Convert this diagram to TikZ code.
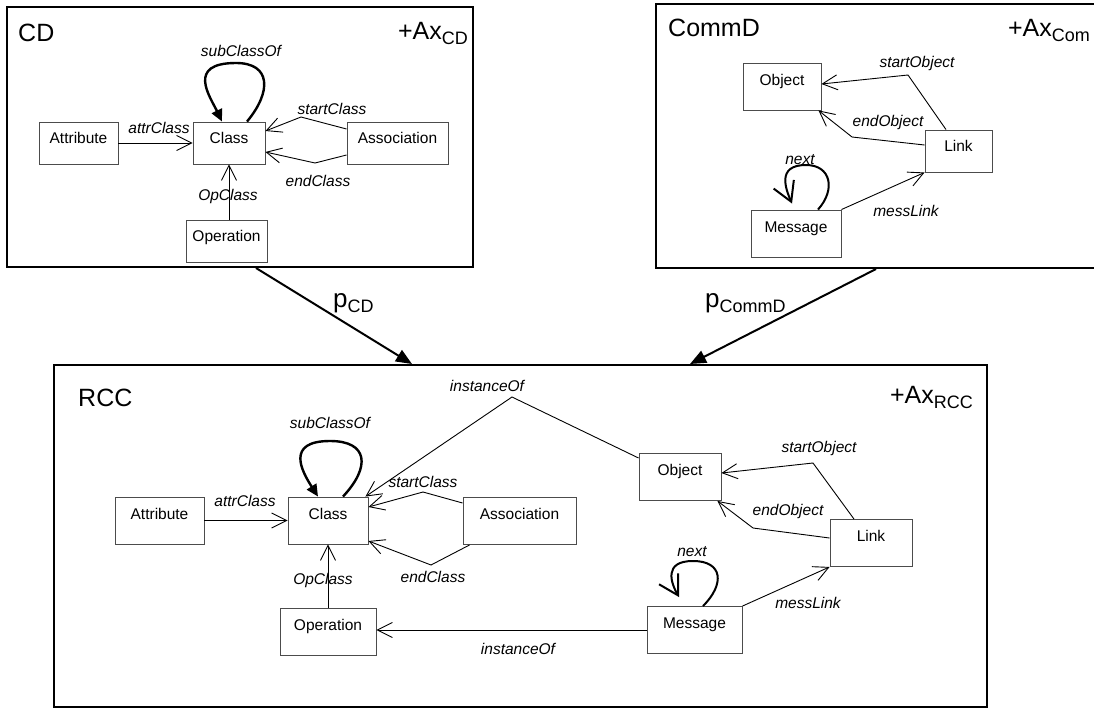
\documentclass[tikz,border=0pt]{standalone}
\usepackage{fontspec}
\setmainfont{Liberation Sans}
\usetikzlibrary{arrows.meta,calc}

\tikzset{
  cls/.style={draw=black!70, line width=0.9pt, inner sep=0pt,
    font=\fontsize{15.5}{18}\selectfont, text height=22pt, text depth=25pt},
  clsS/.style={cls, text height=21pt, text depth=21pt},
  rel/.style={font=\fontsize{15.5}{18}\selectfont\itshape, inner sep=0pt},
  conn/.style={line width=0.9pt, -{Straight Barb[length=15pt,width=15pt]}},
  loopline/.style={line width=2.4pt, -{Triangle[length=12pt,width=11pt]}},
  nextline/.style={line width=2pt, -{Straight Barb[length=19pt,width=22pt]}},
  frame/.style={draw, line width=2pt, inner sep=0pt},
  titletext/.style={font=\fontsize{25}{30}\selectfont, inner sep=0pt, anchor=base west},
  axtext/.style={font=\fontsize{25}{30}\selectfont, inner sep=0pt, anchor=base east},
  parrow/.style={line width=2pt, -{Triangle[length=16pt,width=13pt]}},
  plabel/.style={font=\fontsize{26}{30}\selectfont, inner sep=0pt, anchor=base west},
}
\newcommand{\subtxt}[1]{\raisebox{-5pt}{\fontsize{18}{20}\selectfont #1}}

\begin{document}
\begin{tikzpicture}[x=1pt,y=-1pt]
\useasboundingbox (0,0) rectangle (1094,707);
\fill[white] (0,0) rectangle (1094,707);
\clip (0,0) rectangle (1094,707);

% ---------- frames ----------
\node[frame, minimum width=466pt, minimum height=260pt] (cdf) at (240,137) {};
\node[frame, minimum width=444pt, minimum height=264pt] (cmf) at (878,136) {};
\node[frame, minimum width=933pt, minimum height=342pt] (rcf) at (520.5,536) {};

\node[titletext] (cdt) at (18,41) {CD};
\node[axtext] (cdax) at (468,39) {+Ax\subtxt{CD}};
\node[titletext] (cmt) at (668,36) {CommD};
\node[axtext] (cmax) at (1090,36) {+Ax\subtxt{Com}};
\node[titletext] (rct) at (78,406) {RCC};
\node[axtext] (rcax) at (973,403) {+Ax\subtxt{RCC}};

% ---------- class diagram ----------
\node[clsS, minimum width=79pt] (cattr) at (78.5,143) {Attribute};
\node[clsS, minimum width=72pt] (ccls) at (229,143) {Class};
\node[clsS, minimum width=101pt] (casc) at (397.5,143) {Association};
\node[clsS, minimum width=81pt] (cop) at (226.5,241) {Operation};

\draw[conn] (cattr.east) -- (ccls.west);
\node[rel] (cattrl) at (159,128) {attrClass};
\coordinate (csc) at (301,117);
\draw[conn] (casc.west |- 0,129) -- (csc) -- (ccls.east |- 0,131);
\node[rel] (cscl) at (332,109) {startClass};
\coordinate (cec) at (315,163);
\draw[conn] (casc.west |- 0,155) -- (cec) -- (ccls.east |- 0,152);
\node[rel] (cecl) at (318,181) {endClass};
\draw[conn] (ccls.south |- cop.north) -- (ccls.south);
\node[rel] (copl) at (228,196) {OpClass};
\draw[loopline] ([xshift=18pt]ccls.north) .. controls +(25,-30) and +(35,0) .. (236,63)
  .. controls +(-50,0) and +(-12,-25) .. ([xshift=-7pt]ccls.north);
\node[rel] (csubl) at (241,51) {subClassOf};

% ---------- communication diagram ----------
\node[cls, minimum width=78pt] (mobj) at (782,86.5) {Object};
\node[clsS, minimum width=67pt] (mlink) at (958.5,151) {Link};
\node[cls, minimum width=90pt] (mmsg) at (796,233.5) {Message};

\coordinate (mso) at (908,75);
\draw[conn] ([xshift=-12.5pt]mlink.north) -- (mso) -- (mobj.east |- 0,84);
\node[rel] (msol) at (917,63) {startObject};
\coordinate (meo) at (852,137);
\draw[conn] (mlink.west |- 0,145) -- (meo) -- ([xshift=-3pt]mobj.south east);
\node[rel] (meol) at (888,122) {endObject};
\draw[conn] (mmsg.north east) -- (mlink.south west);
\node[rel] (mml) at (906,211) {messLink};
\draw[nextline] ([xshift=22pt]mmsg.north) .. controls +(18,-20) and +(25,0) .. (806,165)
  .. controls +(-30,0) and +(-6,-14) .. ([xshift=-4pt,yshift=6pt]mmsg.north);
\node[rel] (mnl) at (800,160) {next};

% ---------- projections ----------
\draw[parrow] (cdf.south -| 256,0) -- (rcf.north -| 412,0);
\node[plabel] (pcd) at (333,307) {p\subtxt{CD}};
\draw[parrow] (cmf.south -| 876,0) -- (rcf.north -| 690,0);
\node[plabel] (pcm) at (705,307) {p\subtxt{CommD}};

% ---------- combined diagram ----------
\node[cls, minimum width=89pt] (rattr) at (159.5,520.5) {Attribute};
\node[cls, minimum width=80pt] (rcls) at (328,520.5) {Class};
\node[cls, minimum width=113pt] (rasc) at (519.5,521) {Association};
\node[cls, minimum width=96pt] (rop) at (328,631.5) {Operation};
\node[cls, minimum width=82pt] (robj) at (680,477) {Object};
\node[cls, minimum width=82pt] (rlink) at (871,543) {Link};
\node[cls, minimum width=95pt] (rmsg) at (694.5,630) {Message};

\draw[conn] (rattr.east) -- (rcls.west);
\node[rel] (rattrl) at (245,501) {attrClass};
\coordinate (rsc) at (423,492);
\draw[conn] (rasc.west |- 0,503) -- (rsc) -- (rcls.east |- 0,507);
\node[rel] (rscl) at (423,482) {startClass};
\coordinate (rec) at (431,565);
\draw[conn] ([xshift=7pt]rasc.south west) -- (rec) -- (rcls.east |- 0,541);
\node[rel] (recl) at (433,577) {endClass};
\coordinate (rio) at (512,397);
\draw[conn] (robj.west |- 0,458) -- (rio) -- ([xshift=-3pt]rcls.north east);
\node[rel] (riol) at (487,386) {instanceOf};
\draw[conn] (rop.north) -- (rcls.south);
\node[rel] (ropl) at (323,580) {OpClass};
\draw[conn] (rmsg.west) -- (rmsg.west -| rop.east);
\node[rel] (rmil) at (518,649) {instanceOf};
\draw[loopline] ([xshift=15pt]rcls.north) .. controls +(28,-30) and +(38,0) .. (330,441)
  .. controls +(-45,0) and +(-16,-25) .. ([xshift=-10pt]rcls.north);
\node[rel] (rsubl) at (330,423) {subClassOf};

\coordinate (rso) at (813,463);
\draw[conn] ([xshift=-17pt]rlink.north) -- (rso) -- (robj.east |- 0,473);
\node[rel] (rsol) at (819,448) {startObject};
\coordinate (reo) at (753,528);
\draw[conn] (rlink.west |- 0,538) -- (reo) -- ([xshift=-4pt]robj.south east);
\node[rel] (reol) at (788,511) {endObject};
\draw[conn] (rmsg.north east) -- (rlink.south west);
\node[rel] (rmll) at (808,603) {messLink};
\draw[nextline] ([xshift=8.5pt]rmsg.north) .. controls +(22,-22) and +(30,0) .. (693,561)
  .. controls +(-30,0) and +(-8,-14) .. ([xshift=-15.5pt,yshift=9pt]rmsg.north);
\node[rel] (rnl) at (692,552) {next};
\end{tikzpicture}
\end{document}
